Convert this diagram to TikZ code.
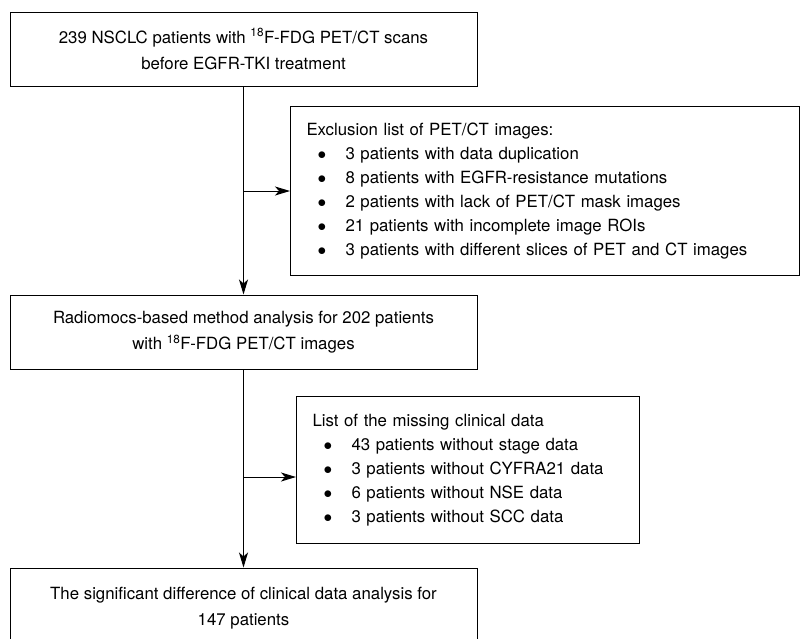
\documentclass[tikz,border=0pt]{standalone}
\usepackage{fontspec}
\setmainfont{TeX Gyre Heros}
\usetikzlibrary{arrows.meta}

\newcommand{\itm}[1]{\hspace*{11pt}\makebox[28pt][l]{$\bullet$}#1}

\begin{document}
\begin{tikzpicture}[>={Stealth[length=15pt,width=9pt,inset=4pt]}, x=1pt, y=-1pt,
    line width=1pt, font=\fontsize{16.8}{24}\selectfont,
    box/.style={draw, align=center, inner sep=0pt, font=\fontsize{16.8}{26}\selectfont},
    listbox/.style={draw, anchor=north west, align=left, inner xsep=16pt, inner ysep=0pt}]
  \useasboundingbox (0,0) rectangle (800,638);

  \node[box, minimum width=467pt, minimum height=74pt] (scan) at (243.5,49)
    {239 NSCLC patients with \textsuperscript{18}F-FDG PET/CT scans\\ before EGFR-TKI treatment};
  \node[listbox, text width=477pt, minimum height=169pt] (excl) at (290,106)
    {Exclusion list of PET/CT images:\\
     \itm{3 patients with data duplication}\\
     \itm{8 patients with EGFR-resistance mutations}\\
     \itm{2 patients with lack of PET/CT mask images}\\
     \itm{21 patients with incomplete image ROIs}\\
     \itm{3 patients with different slices of PET and CT images}};
  \node[box, minimum width=467pt, minimum height=74pt] (radio) at (243.5,332)
    {Radiomocs-based method analysis for 202 patients\\ with \textsuperscript{18}F-FDG PET/CT images};
  \node[listbox, text width=311pt, minimum height=147pt] (miss) at (296,396)
    {List of the missing clinical data\\
     \itm{43 patients without stage data}\\
     \itm{3 patients without CYFRA21 data}\\
     \itm{6 patients without NSE data}\\
     \itm{3 patients without SCC data}};
  \node[box, minimum width=467pt, minimum height=80pt] (clin) at (243.5,608)
    {The significant difference of clinical data analysis for\\ 147 patients};

  % connectors
  \draw[->] (scan) -- (radio);
  \draw[->] (scan.south |- excl.west) -- (excl.west);
  \draw[->] (radio) -- (clin);
  \coordinate (j2) at (243.5,477);
  \draw[->] (j2) -- (j2 -| miss.west);
\end{tikzpicture}
\end{document}
